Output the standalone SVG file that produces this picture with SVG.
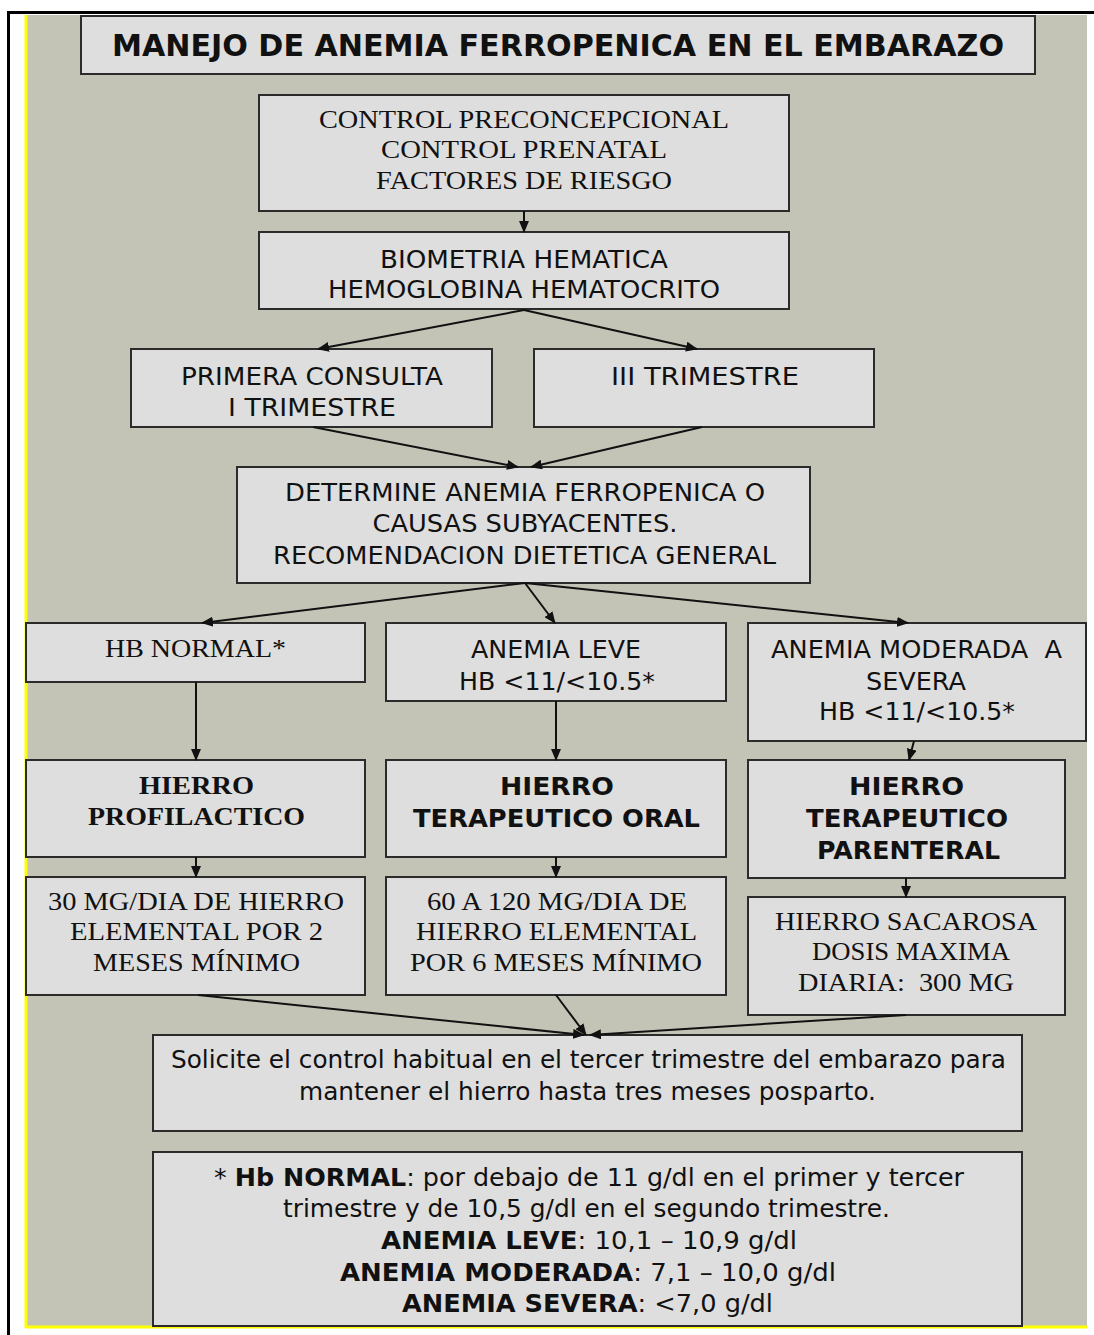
<svg xmlns="http://www.w3.org/2000/svg" width="1094" height="1335" viewBox="0 0 1094 1335">
<style>
.bx{fill:#dedede;stroke:#2b2b2b;stroke-width:2}
.s{font-family:"DejaVu Sans","Liberation Sans",sans-serif;font-size:25px;fill:#111;text-anchor:middle}
.t{font-family:"DejaVu Sans Condensed","DejaVu Sans","Liberation Sans",sans-serif;font-size:31px;font-weight:bold;fill:#111;text-anchor:middle}
.r{font-family:"Liberation Serif","Times New Roman",serif;font-size:26px;fill:#111;text-anchor:middle}
.b{font-weight:bold}
.c{stroke:#111;stroke-width:2;fill:none;marker-end:url(#ah)}
.pre{white-space:pre}
</style>
<defs>
<marker id="ah" markerUnits="userSpaceOnUse" markerWidth="12" markerHeight="10" refX="11" refY="5" orient="auto">
<path d="M0,0 L12,5 L0,10 z" fill="#111"/>
</marker>
</defs>
<rect x="0" y="0" width="1094" height="1335" fill="#ffffff"/>
<rect x="25" y="15" width="1062" height="1313" fill="#c4c4b6"/>
<line x1="26" y1="15" x2="26" y2="1328" stroke="#ffff00" stroke-width="3"/>
<line x1="25" y1="1327" x2="1087" y2="1327" stroke="#ffff00" stroke-width="3"/>
<line x1="7" y1="12.5" x2="1094" y2="12.5" stroke="#000" stroke-width="3"/>
<line x1="8.5" y1="12" x2="8.5" y2="1335" stroke="#000" stroke-width="3"/>

<g id="title">
<rect class="bx" x="81" y="16" width="954" height="58"/>
<text class="t" x="558" y="56" textLength="892" lengthAdjust="spacingAndGlyphs">MANEJO DE ANEMIA FERROPENICA EN EL EMBARAZO</text>
</g>

<g id="control">
<rect class="bx" x="259" y="95" width="530" height="116"/>
<text class="r" x="524" y="128" textLength="410" lengthAdjust="spacingAndGlyphs">CONTROL PRECONCEPCIONAL</text>
<text class="r" x="524" y="158" textLength="286" lengthAdjust="spacingAndGlyphs">CONTROL PRENATAL</text>
<text class="r" x="524" y="189" textLength="296" lengthAdjust="spacingAndGlyphs">FACTORES DE RIESGO</text>
</g>

<g id="biometria">
<rect class="bx" x="259" y="232" width="530" height="77"/>
<text class="s" x="524" y="268" textLength="288" lengthAdjust="spacingAndGlyphs">BIOMETRIA HEMATICA</text>
<text class="s" x="524" y="298" textLength="392" lengthAdjust="spacingAndGlyphs">HEMOGLOBINA HEMATOCRITO</text>
</g>

<g id="primera">
<rect class="bx" x="131" y="349" width="361" height="78"/>
<text class="s" x="312" y="385" textLength="262" lengthAdjust="spacingAndGlyphs">PRIMERA CONSULTA</text>
<text class="s" x="312" y="416" textLength="168" lengthAdjust="spacingAndGlyphs">I TRIMESTRE</text>
</g>

<g id="tercero">
<rect class="bx" x="534" y="349" width="340" height="78"/>
<text class="s" x="705" y="385" textLength="188" lengthAdjust="spacingAndGlyphs">III TRIMESTRE</text>
</g>

<g id="determine">
<rect class="bx" x="237" y="467" width="573" height="116"/>
<text class="s" x="525" y="501" textLength="480" lengthAdjust="spacingAndGlyphs">DETERMINE ANEMIA FERROPENICA O</text>
<text class="s" x="525" y="532" textLength="305" lengthAdjust="spacingAndGlyphs">CAUSAS SUBYACENTES.</text>
<text class="s" x="524.5" y="564" textLength="503" lengthAdjust="spacingAndGlyphs">RECOMENDACION DIETETICA GENERAL</text>
</g>

<g id="hbnormal">
<rect class="bx" x="26" y="623" width="339" height="59"/>
<text class="r" x="195.5" y="657" textLength="181" lengthAdjust="spacingAndGlyphs">HB NORMAL*</text>
</g>

<g id="leve">
<rect class="bx" x="386" y="623" width="340" height="78"/>
<text class="s" x="556" y="658" textLength="170" lengthAdjust="spacingAndGlyphs">ANEMIA LEVE</text>
<text class="s" x="557" y="690" textLength="196" lengthAdjust="spacingAndGlyphs">HB &lt;11/&lt;10.5*</text>
</g>

<g id="moderada">
<rect class="bx" x="748" y="623" width="338" height="118"/>
<text class="s pre" x="916.5" y="658" textLength="291" lengthAdjust="spacingAndGlyphs">ANEMIA MODERADA  A</text>
<text class="s" x="916" y="690" textLength="100" lengthAdjust="spacingAndGlyphs">SEVERA</text>
<text class="s" x="917" y="720" textLength="196" lengthAdjust="spacingAndGlyphs">HB &lt;11/&lt;10.5*</text>
</g>

<g id="profilactico">
<rect class="bx" x="26" y="760" width="339" height="97"/>
<text class="r b" x="196.5" y="794" textLength="115" lengthAdjust="spacingAndGlyphs">HIERRO</text>
<text class="r b" x="196.5" y="825" textLength="217" lengthAdjust="spacingAndGlyphs">PROFILACTICO</text>
</g>

<g id="oral">
<rect class="bx" x="386" y="760" width="340" height="97"/>
<text class="s b" x="557" y="795" textLength="114" lengthAdjust="spacingAndGlyphs">HIERRO</text>
<text class="s b" x="556.5" y="827" textLength="287" lengthAdjust="spacingAndGlyphs">TERAPEUTICO ORAL</text>
</g>

<g id="parenteral">
<rect class="bx" x="748" y="760" width="317" height="118"/>
<text class="s b" x="906.5" y="795" textLength="115" lengthAdjust="spacingAndGlyphs">HIERRO</text>
<text class="s b" x="907" y="827" textLength="202" lengthAdjust="spacingAndGlyphs">TERAPEUTICO</text>
<text class="s b" x="908.5" y="859" textLength="183" lengthAdjust="spacingAndGlyphs">PARENTERAL</text>
</g>

<g id="dosis30">
<rect class="bx" x="26" y="877" width="339" height="118"/>
<text class="r" x="196" y="910" textLength="296" lengthAdjust="spacingAndGlyphs">30 MG/DIA DE HIERRO</text>
<text class="r" x="196.5" y="940" textLength="253" lengthAdjust="spacingAndGlyphs">ELEMENTAL POR 2</text>
<text class="r" x="196.5" y="971" textLength="207" lengthAdjust="spacingAndGlyphs">MESES MÍNIMO</text>
</g>

<g id="dosis60">
<rect class="bx" x="386" y="877" width="340" height="118"/>
<text class="r" x="557" y="910" textLength="260" lengthAdjust="spacingAndGlyphs">60 A 120 MG/DIA DE</text>
<text class="r" x="556.5" y="940" textLength="281" lengthAdjust="spacingAndGlyphs">HIERRO ELEMENTAL</text>
<text class="r" x="556" y="971" textLength="292" lengthAdjust="spacingAndGlyphs">POR 6 MESES MÍNIMO</text>
</g>

<g id="sacarosa">
<rect class="bx" x="748" y="897" width="317" height="118"/>
<text class="r" x="906" y="930" textLength="262" lengthAdjust="spacingAndGlyphs">HIERRO SACAROSA</text>
<text class="r" x="911" y="960" textLength="198" lengthAdjust="spacingAndGlyphs">DOSIS MAXIMA</text>
<text class="r pre" x="906" y="991" textLength="216" lengthAdjust="spacingAndGlyphs">DIARIA:  300 MG</text>
</g>

<g id="solicite">
<rect class="bx" x="153" y="1035" width="869" height="96"/>
<text class="s" x="588.5" y="1068" textLength="835" lengthAdjust="spacingAndGlyphs">Solicite el control habitual en el tercer trimestre del embarazo para</text>
<text class="s" x="587.5" y="1100" textLength="577" lengthAdjust="spacingAndGlyphs">mantener el hierro hasta tres meses posparto.</text>
</g>

<g id="leyenda">
<rect class="bx" x="153" y="1152" width="869" height="174"/>
<text class="s" x="589" y="1186" textLength="750" lengthAdjust="spacingAndGlyphs">* <tspan class="b">Hb NORMAL</tspan>: por debajo de 11 g/dl en el primer y tercer</text>
<text class="s" x="586.5" y="1217" textLength="607" lengthAdjust="spacingAndGlyphs">trimestre y de 10,5 g/dl en el segundo trimestre.</text>
<text class="s" x="589" y="1249" textLength="416" lengthAdjust="spacingAndGlyphs"><tspan class="b">ANEMIA LEVE</tspan>: 10,1 – 10,9 g/dl</text>
<text class="s" x="588" y="1281" textLength="496" lengthAdjust="spacingAndGlyphs"><tspan class="b">ANEMIA MODERADA</tspan>: 7,1 – 10,0 g/dl</text>
<text class="s" x="587.5" y="1312" textLength="371" lengthAdjust="spacingAndGlyphs"><tspan class="b">ANEMIA SEVERA</tspan>: &lt;7,0 g/dl</text>
</g>

<g id="connectors">
<line class="c" x1="524" y1="211" x2="524" y2="232"/>
<line class="c" x1="524" y1="310" x2="318" y2="349"/>
<line class="c" x1="524" y1="310" x2="697" y2="349"/>
<line class="c" x1="313" y1="427" x2="518" y2="467"/>
<line class="c" x1="702" y1="427" x2="531" y2="467"/>
<line class="c" x1="525" y1="583" x2="202" y2="623"/>
<line class="c" x1="525" y1="583" x2="555" y2="623"/>
<line class="c" x1="525" y1="583" x2="908" y2="623"/>
<line class="c" x1="196" y1="682" x2="196" y2="760"/>
<line class="c" x1="556" y1="701" x2="556" y2="760"/>
<line class="c" x1="914" y1="741" x2="909" y2="760"/>
<line class="c" x1="196" y1="857" x2="196" y2="877"/>
<line class="c" x1="556" y1="857" x2="556" y2="877"/>
<line class="c" x1="906" y1="878" x2="906" y2="897"/>
<line class="c" x1="198" y1="995" x2="584" y2="1035"/>
<line class="c" x1="556" y1="995" x2="586" y2="1035"/>
<line class="c" x1="906" y1="1015" x2="590" y2="1035"/>
</g>
</svg>
